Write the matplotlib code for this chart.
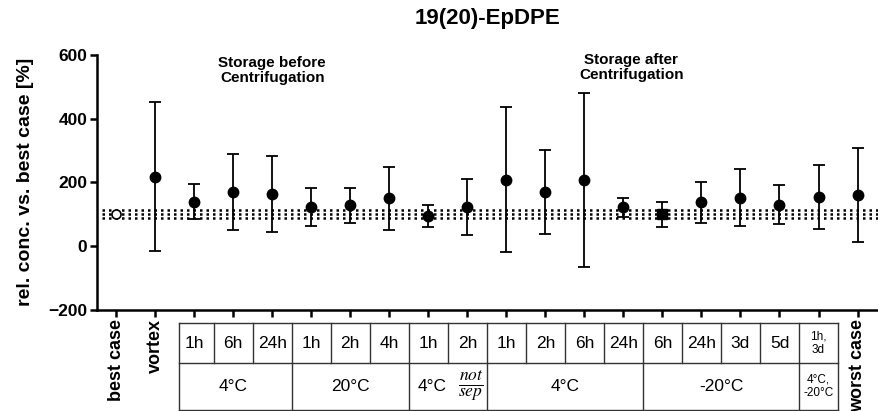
import matplotlib.pyplot as plt
import numpy as np

plt.rcParams['font.family'] = ['Liberation Sans', 'DejaVu Sans']
plt.rcParams['mathtext.fontset'] = 'stix'

# values
labels = ["best case", "vortex", "", "", "", "", "", "", "", "", "",
          "", "", "", "", "", "", "", "", "worst case"]
times = ["1h", "6h", "24h", "1h", "2h", "4h", "1h", "2h",
         "1h", "2h", "6h", "24h", "6h", "24h", "3d", "5d", "1h,\n3d"]
temps = ["4°C", "20°C", "4°C", "4°C", "-20°C", "4°C,\n-20°C"]
temp_spans = [(2, 4), (5, 7), (8, 9), (10, 13), (14, 17), (18, 18)]
means = [100, 218, 138, 170, 162, 122, 129, 149, 94, 122,
         207, 169, 206, 122, 100, 137, 151, 130, 155, 159]
upper = [100, 451, 194, 289, 281, 183, 183, 249, 128, 210,
         436, 300, 480, 152, 139, 202, 241, 192, 254, 309]
lower = [100, -15, 84, 50, 44, 61, 71, 49, 58, 35,
         -18, 37, -65, 92, 58, 73, 61, 68, 54, 12]
ref_lines = [113, 100, 87]

x = np.arange(len(means))
means = np.array(means)
err = np.array([means - np.array(lower), np.array(upper) - means])

fig = plt.figure(figsize=(8.79, 4.11), dpi=100)
ax = fig.add_axes([97 / 879, 1 - 309.5 / 411, 1 - 97 / 879, (309.5 - 55) / 411])

xmin, xmax = -0.49, 19.55
for yv in ref_lines:
    ax.hlines(yv, -0.35, xmax, colors="black", linestyles=(0, (1, 1.6)), lw=1.8, zorder=1)

ax.errorbar(x[1:], means[1:], yerr=err[:, 1:], fmt="none", ecolor="black",
            elinewidth=1.3, capsize=4, capthick=1.3, zorder=2)
circ = [i for i in x[1:] if i != 14]
ax.plot(circ, means[circ], "o", color="black", ms=7.5, zorder=3)
ax.plot([14], [means[14]], "s", color="black", ms=7, zorder=3)
ax.plot([0], [means[0]], "o", mfc="white", mec="black", ms=6.5, mew=1.2, zorder=3)

ax.set_xlim(xmin, xmax)
ax.set_ylim(-200, 600)
ax.set_yticks([-200, 0, 200, 400, 600])
ax.set_xticks(x)
ax.set_xticklabels(labels, rotation=90, fontweight="bold", fontsize=13)
ax.tick_params(axis="both", direction="out", length=5, width=1.8)
ax.tick_params(axis="y", labelsize=12.5, pad=2)
ax.tick_params(axis="x", pad=2)
for lab in ax.get_yticklabels():
    lab.set_fontweight("bold")
for s in ["top", "right"]:
    ax.spines[s].set_visible(False)
for s in ["left", "bottom"]:
    ax.spines[s].set_linewidth(1.8)

ax.set_ylabel("rel. conc. vs. best case [%]", fontweight="bold", fontsize=14, labelpad=10)
ax.set_title("19(20)-EpDPE", fontweight="bold", fontsize=16, pad=22, x=0.5)

ax.text(4.0, 550, "Storage before\nCentrifugation", ha="center", va="center",
        fontweight="bold", fontsize=11, linespacing=1.1)
ax.text(13.2, 562, "Storage after\nCentrifugation", ha="center", va="center",
        fontweight="bold", fontsize=11, linespacing=1.1)

# table below the axis
tb = fig.add_axes([97 / 879, 1 - 409.5 / 411, 1 - 97 / 879, (409.5 - 322.7) / 411])
tb.set_xlim(xmin, xmax)
tb.set_ylim(0, 1)
tb.axis("off")
mid = 0.53
left, right = 1.6, 18.5
lc = "#333333"
lw = 1.0
for yy in [0, mid, 1]:
    tb.plot([left, right], [yy, yy], color=lc, lw=lw, clip_on=False)
tb.plot([left, left], [0, 1], color=lc, lw=lw, clip_on=False)
tb.plot([right, right], [0, 1], color=lc, lw=lw, clip_on=False)
for k in range(2, 18):
    tb.plot([k + 0.5, k + 0.5], [mid, 1], color=lc, lw=lw, clip_on=False)
for a, b in temp_spans[:-1]:
    tb.plot([b + 0.5, b + 0.5], [0, mid], color=lc, lw=lw, clip_on=False)

for i, t in enumerate(times):
    small = "\n" in t
    tb.text(i + 2, (mid + 1) / 2, t, ha="center", va="center",
            fontsize=8.5 if small else 12.5, linespacing=1.2)
for (a, b), t in zip(temp_spans, temps):
    small = "\n" in t
    cx = (a + b) / 2
    if (a, b) == (8, 9):
        cx = 8.1
        tb.text(9.1, mid / 2, r"$\frac{not}{sep}$", ha="center", va="center", fontsize=18)
    tb.text(cx, mid / 2, t, ha="center", va="center",
            fontsize=8.5 if small else 12.5, linespacing=1.2)

fig.savefig("out.png", dpi=100)
